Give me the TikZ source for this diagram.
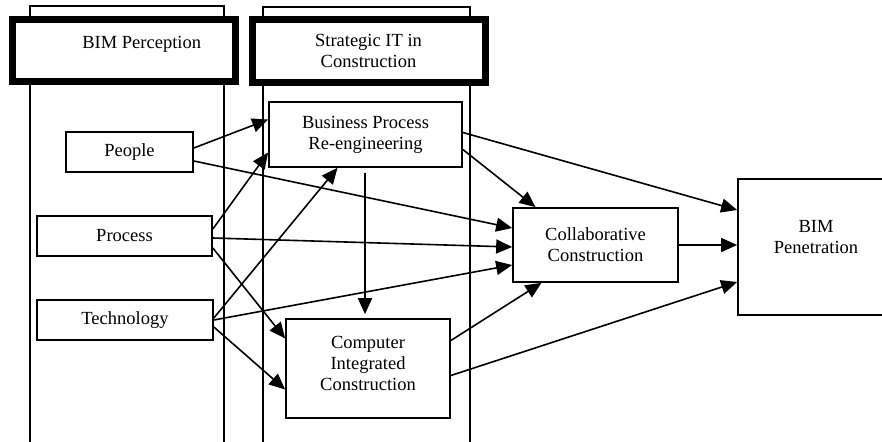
\documentclass[tikz,border=0pt]{standalone}
\usepackage{fontspec}
\setmainfont{Liberation Serif}
\usetikzlibrary{arrows.meta}
\begin{document}
\begin{tikzpicture}[x=1pt, y=-1pt, line width=1.3pt,
  font=\fontsize{18.5}{21}\selectfont,
  lane/.style = {draw, inner sep=0pt},
  head/.style = {draw, fill=white, line width=7pt, inner sep=0pt, align=center},
  main/.style = {draw, fill=white, line width=1.7pt, inner sep=0pt, align=center},
  arr/.style = {line width=1.6pt, -{Triangle[length=16pt,width=14pt]}}]
\clip (0,0) rectangle (882,441);
\node[lane, minimum width=194, minimum height=454] (lane1) at (127,233) {};
\node[lane, minimum width=207, minimum height=453] (lane2) at (366.5,233.5) {};
\node[head, minimum width=223.5, minimum height=62.5] (perc) at (123.75,50.75) {\hspace*{36pt}BIM Perception\\[-5pt]~};
\node[head, minimum width=233, minimum height=63] (sit) at (368.5,51) {Strategic IT in\\Construction};
\node[main, minimum width=127, minimum height=40] (ppl) at (129.5,152) {People};
\node[main, minimum width=175, minimum height=40] (prc) at (124.5,236) {Process};
\node[main, minimum width=176, minimum height=40] (tec) at (125,320) {Technology};
\node[main, minimum width=193, minimum height=65] (bpr) at (365.5,134.5) {Business Process\\Re-engineering};
\node[main, minimum width=164, minimum height=99] (cic) at (368,368.5) {Computer\\Integrated\\Construction\\[-10pt]~};
\node[main, minimum width=165, minimum height=74] (col) at (595.5,245) {Collaborative\\Construction};
\node[main, minimum width=156, minimum height=136] (bim) at (816,247) {BIM\\Penetration\\~};
\draw[arr] ([yshift=4]ppl.east) -- ([yshift=15]bpr.west);
\draw[arr] ([yshift=-9]ppl.east) -- ([yshift=17]col.west);
\draw[arr] ([yshift=7]prc.east) -- ([yshift=-18]bpr.west);
\draw[arr] ([yshift=-2]prc.east) -- ([yshift=-2]col.west);
\draw[arr] ([yshift=-12]prc.east) -- ([yshift=30]cic.west);
\draw[arr] ([yshift=2]tec.east) -- ([xshift=-28]bpr.south);
\draw[arr] (tec.east) -- ([yshift=-20]col.west);
\draw[arr] ([yshift=-7]tec.east) -- ([yshift=-21]cic.west);
\draw[arr, line width=2pt] ([xshift=-0.5,yshift=-5]bpr.south) -- ([xshift=-0.5,yshift=4]bpr.south |- cic.north);
\draw[arr] ([yshift=-15]bpr.east) -- ([xshift=-60]col.north);
\draw[arr] ([yshift=2]bpr.east) -- ([yshift=37]bim.west);
\draw[arr] (col.east) -- (bim.west |- col.east);
\draw[arr] ([yshift=28]cic.east) -- ([xshift=-54]col.south);
\draw[arr] ([yshift=-7]cic.east) -- ([yshift=-35]bim.west);
\end{tikzpicture}
\end{document}
